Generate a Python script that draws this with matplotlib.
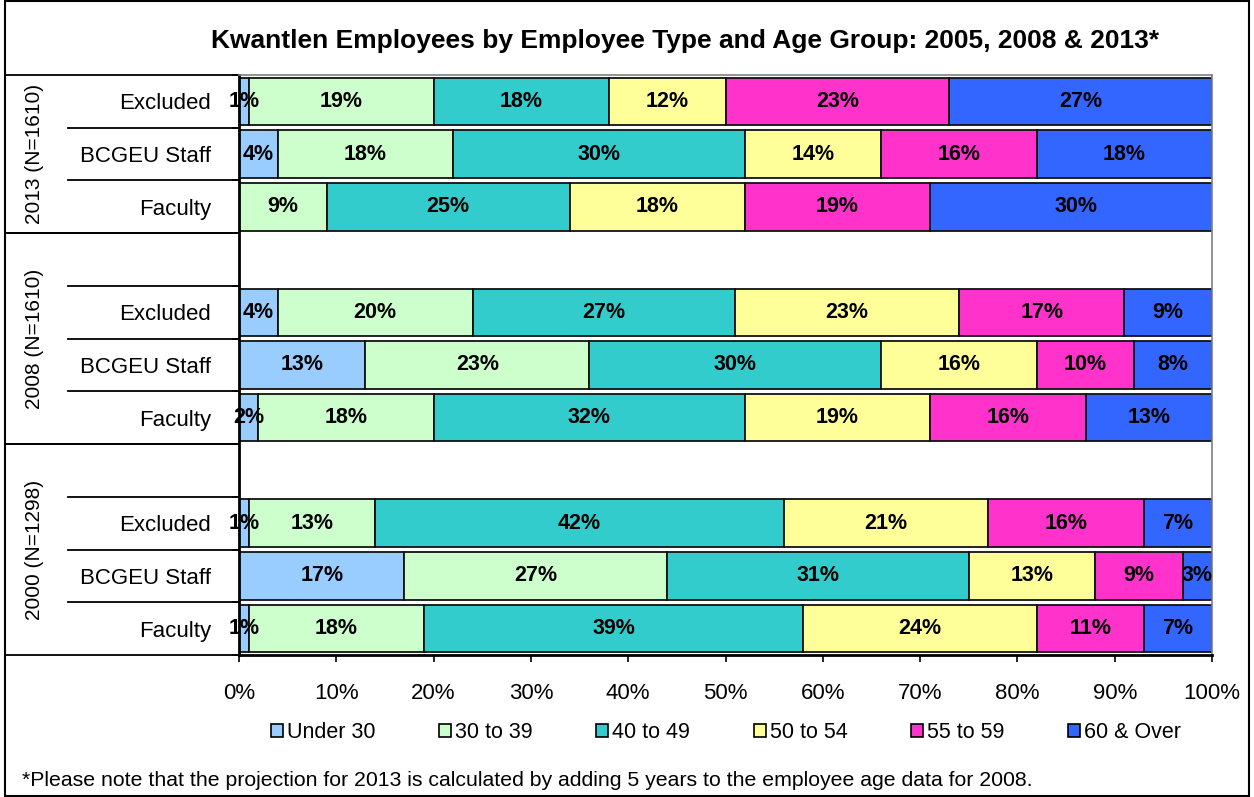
import matplotlib
matplotlib.use("Agg")
import matplotlib.pyplot as plt
from matplotlib.patches import Rectangle, Patch
import numpy as np

plt.rcParams['font.family'] = ['Liberation Sans', 'DejaVu Sans']

title = "Kwantlen Employees by Employee Type and Age Group: 2005, 2008 & 2013*"
footnote = "*Please note that the projection for 2013 is calculated by adding 5 years to the employee age data for 2008."

groups = ["2013 (N=1610)", "2008 (N=1610)", "2000 (N=1298)"]
types = ["Excluded", "BCGEU Staff", "Faculty"]
age_groups = ["Under 30", "30 to 39", "40 to 49", "50 to 54", "55 to 59", "60 & Over"]
colors = ["#99CCFF", "#CCFFCC", "#33CCCC", "#FFFF99", "#FF33CC", "#3366FF"]

# rows top to bottom: 2013 Excl, BCGEU, Faculty, 2008 ..., 2000 ...
under30 = [1, 4, 0, 4, 13, 2, 1, 17, 1]
age30_39 = [19, 18, 9, 20, 23, 18, 13, 27, 18]
age40_49 = [18, 30, 25, 27, 30, 32, 42, 31, 39]
age50_54 = [12, 14, 18, 23, 16, 19, 21, 13, 24]
age55_59 = [23, 16, 19, 17, 10, 16, 16, 9, 11]
age60 = [27, 18, 30, 9, 8, 13, 7, 3, 7]
series = [under30, age30_39, age40_49, age50_54, age55_59, age60]

row_pos = [0, 1, 2, 4, 5, 6, 8, 9, 10]
row_labels = types * 3
group_bounds = [(-0.5, 2.5), (2.5, 6.5), (6.5, 10.5)]

W, H = 1254, 797
fig = plt.figure(figsize=(W / 100, H / 100), dpi=100)
ax = fig.add_axes([239 / W, 1 - 655 / H, (1212 - 239) / W, (655 - 75) / H])

left = np.zeros(len(row_pos))
for vals, col, name in zip(series, colors, age_groups):
    vals = np.array(vals, dtype=float)
    ax.barh(row_pos, vals, left=left, height=0.9, color=col, edgecolor="#111111",
            linewidth=1.3, label=name)
    for y, l, v in zip(row_pos, left, vals):
        if v > 0:
            ax.text(l + v / 2, y, f"{v:.0f}%", ha="center", va="center",
                    fontsize=15.5, fontweight="bold", color="black")
    left += vals

ax.set_xlim(0, 100)
ax.set_ylim(10.5, -0.5)
ax.set_xticks(np.arange(0, 101, 10))
ax.set_xticklabels([f"{t}%" for t in range(0, 101, 10)], fontsize=16)
ax.tick_params(axis="x", direction="out", length=5, width=1.2, pad=15)

# y ticks: major at boundaries (marks), minor at rows (labels)
bounds = [-0.5, 0.5, 1.5, 2.5, 3.5, 4.5, 5.5, 6.5, 7.5, 8.5, 9.5, 10.5]
ax.set_yticks(bounds)
ax.set_yticklabels([])
ax.tick_params(axis="y", which="major", direction="out", length=5, width=1.2)
ax.set_yticks(row_pos, minor=True)
ax.set_yticklabels(row_labels, minor=True, fontsize=16)
ax.tick_params(axis="y", which="minor", length=0, pad=20)

for s in ["top", "right"]:
    ax.spines[s].set_color("#808080")
    ax.spines[s].set_linewidth(1.2)
for s in ["left", "bottom"]:
    ax.spines[s].set_color("black")
    ax.spines[s].set_linewidth(2)

# left table lines
trans = ax.get_yaxis_transform()
x_outer = (5 - 239) / 973
x_inner = (68 - 239) / 973
for (a, b), g in zip(group_bounds, groups):
    ax.plot([x_outer, 0], [a, a], color="black", lw=1.3, transform=trans, clip_on=False)
    ax.plot([x_outer, 0], [b, b], color="black", lw=1.3, transform=trans, clip_on=False)
    ax.text((35 - 239) / 973, (a + b) / 2, g, rotation=90, ha="center", va="center",
            fontsize=15, transform=trans)
for yb in [0.5, 1.5, 3.5, 4.5, 5.5, 7.5, 8.5, 9.5]:
    ax.plot([x_inner, 0], [yb, yb], color="black", lw=1.3, transform=trans, clip_on=False)

fig.text(685.5 / W, 1 - 41 / H, title, ha="center", va="center",
         fontsize=19, fontweight="bold")
fig.text(22 / W, 1 - 780 / H, footnote, ha="left", va="center", fontsize=15.3)

handles = [Patch(facecolor=c, edgecolor="black", linewidth=1.2) for c in colors]
fig.legend(handles, age_groups, loc="center", bbox_to_anchor=(726 / W, 1 - 733 / H),
           ncol=6, frameon=False, fontsize=15.5, handlelength=0.55, handleheight=0.55,
           handletextpad=0.2, columnspacing=2.95)

fig.patches.append(Rectangle((5 / W, 1 / H), (1249 - 5) / W, (H - 2) / H,
                             transform=fig.transFigure, fill=False,
                             edgecolor="black", linewidth=1.5))

fig.savefig("out.png", dpi=100)
